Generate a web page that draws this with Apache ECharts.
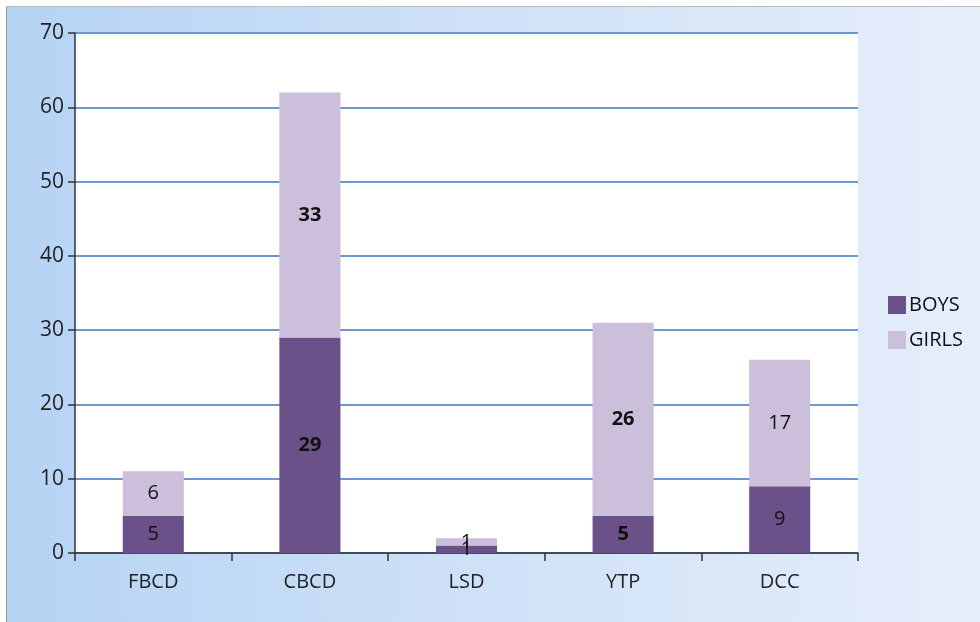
<!DOCTYPE html>
<html><head><meta charset="utf-8">
<style>html,body{margin:0;padding:0;background:#fff;}#c{width:980px;height:622px;}</style>
<script src="https://cdn.jsdelivr.net/npm/echarts@6/dist/echarts.min.js"></script>
</head><body><div id="c"></div>
<script>
const categories = ['FBCD','CBCD','LSD','YTP','DCC'];
const boys = [5,29,1,5,9];
const girls = [6,33,1,26,17];
const boldLabels = [false,true,false,true,false];
const yTicks = [0,10,20,30,40,50,60,70];

const chart = echarts.init(document.getElementById('c'));
const font = 'Open Sans';
function mk(vals){
  return vals.map((v,i)=>({value:v,label:{fontWeight: boldLabels[i]?'bold':'normal'}}));
}
chart.setOption({
  backgroundColor: {type:'linear',x:0,y:0,x2:1,y2:0,colorStops:[{offset:0,color:'#b5d3f4'},{offset:0.45,color:'#cde0f7'},{offset:1,color:'#e6eefa'}]},
  animation:false,
  graphic:[
    {type:'rect',shape:{x:0,y:0,width:980,height:6},style:{fill:'#fff'},z:-1},
    {type:'rect',shape:{x:0,y:0,width:6,height:622},style:{fill:'#fff'},z:-1},
    {type:'line',shape:{x1:6.5,y1:6,x2:6.5,y2:622},style:{stroke:'#999',lineWidth:1}},
    {type:'line',shape:{x1:6,y1:6.5,x2:980,y2:6.5},style:{stroke:'#bbb',lineWidth:1}},
    {type:'rect',shape:{x:75,y:33,width:783,height:520},style:{fill:'#fff'},z:-1}
  ],
  grid:{left:75,top:33,right:122,bottom:69},
  legend:{orient:'vertical',left:883,top:290,itemWidth:18,itemHeight:18,itemGap:15,icon:'rect',
    textStyle:{fontFamily:font,fontSize:20,color:'#111',padding:[0,0,0,-2]},data:['BOYS','GIRLS']},
  xAxis:{type:'category',data:categories,
    axisLine:{lineStyle:{color:'#333',width:1.5}},
    axisTick:{show:true,length:8,lineStyle:{color:'#333',width:1.5}},
    axisLabel:{fontFamily:font,fontSize:20,color:'#222',margin:19}},
  yAxis:{type:'value',min:0,max:70,interval:10,
    axisLine:{show:true,lineStyle:{color:'#333',width:1.5}},
    axisTick:{show:true,length:7,lineStyle:{color:'#333',width:1.5}},
    axisLabel:{fontFamily:font,fontSize:21,color:'#222',margin:11},
    splitLine:{lineStyle:{color:'#6c98d0',width:2}}},
  series:[
    {name:'BOYS',type:'bar',stack:'a',barWidth:'39%',data:mk(boys),itemStyle:{color:'#6b5189'},
     label:{show:true,position:'inside',fontFamily:font,fontSize:20,color:'#111'}},
    {name:'GIRLS',type:'bar',stack:'a',barWidth:'39%',data:mk(girls),itemStyle:{color:'#cbbfdb'},
     label:{show:true,position:'inside',fontFamily:font,fontSize:20,color:'#111'}}
  ]
});
</script></body></html>
